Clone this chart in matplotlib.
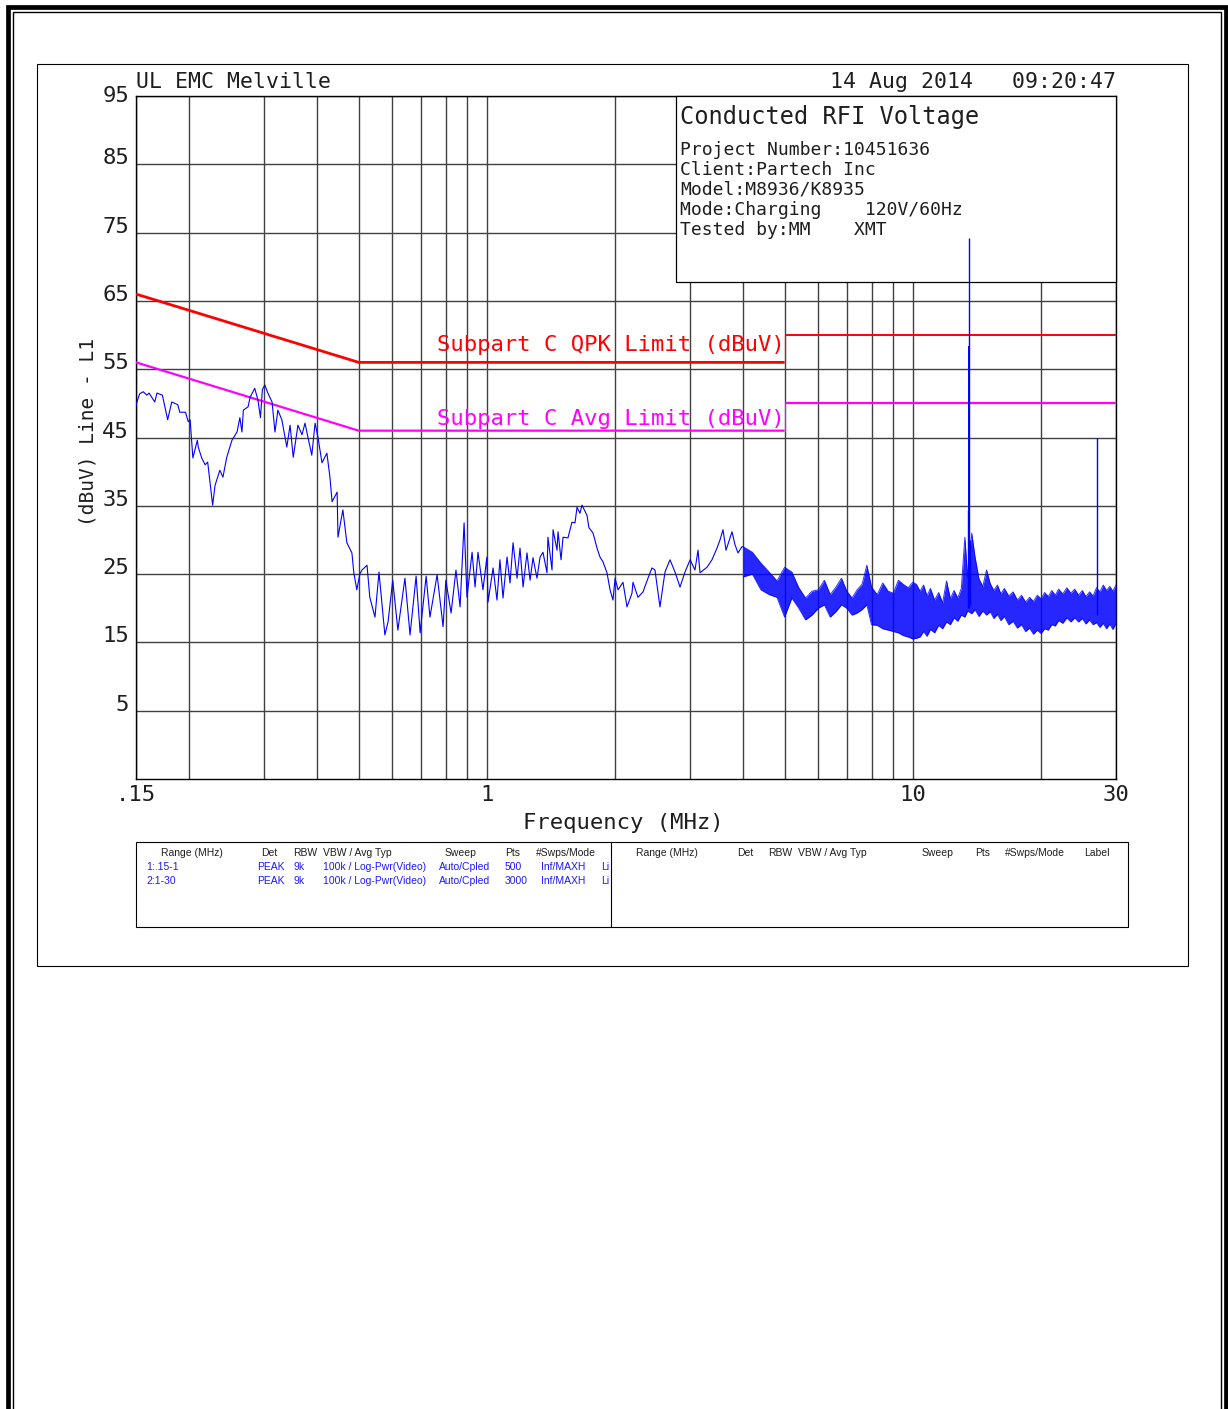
import matplotlib
matplotlib.use("Agg")
import matplotlib.pyplot as plt
import numpy as np
from matplotlib.lines import Line2D
from matplotlib.patches import Rectangle
from matplotlib.ticker import FixedLocator, FixedFormatter, NullFormatter, NullLocator

W, H = 1228, 1409            # page size in px (dpi 100)
MONO = "DejaVu Sans Mono"
SMALL = "Liberation Sans"
INK = "#1e1e1e"
GRID = "#404040"
TRACE = "#0000ff"
QPK_COLOR = "#ff0000"
AVG_COLOR = "#ff00ff"
TABLE_BLUE = "#1a1aff"

# ---------------------------------------------------------------------------
# Measured peak trace, 0.15 - 4 MHz
# ---------------------------------------------------------------------------
trace_mhz = [
    0.150, 0.153, 0.156, 0.159, 0.161, 0.166, 0.168, 0.173, 0.178, 0.182,
    0.188, 0.190, 0.196, 0.199, 0.201, 0.204, 0.209, 0.210, 0.214, 0.218,
    0.221, 0.227, 0.230, 0.236, 0.240, 0.245, 0.252, 0.259, 0.263, 0.266,
    0.268, 0.275, 0.278, 0.285, 0.290, 0.294, 0.297, 0.301, 0.306, 0.313,
    0.318, 0.323, 0.330, 0.339, 0.345, 0.351, 0.360, 0.368, 0.374, 0.388,
    0.395, 0.401, 0.410, 0.421, 0.428, 0.433, 0.445, 0.447, 0.459, 0.469,
    0.482, 0.487, 0.495, 0.503, 0.509, 0.523, 0.531, 0.546, 0.558, 0.576,
    0.586, 0.601, 0.618, 0.642, 0.660, 0.682, 0.697, 0.720, 0.735, 0.764,
    0.789, 0.801, 0.824, 0.846, 0.865, 0.884, 0.898, 0.923, 0.938, 0.953,
    0.979, 1.000, 1.006, 1.034, 1.056, 1.073, 1.091, 1.115, 1.133, 1.152,
    1.177, 1.196, 1.216, 1.242, 1.263, 1.283, 1.311, 1.333, 1.354, 1.384,
    1.391, 1.422, 1.430, 1.461, 1.469, 1.493, 1.509, 1.550, 1.584, 1.610,
    1.628, 1.654, 1.672, 1.718, 1.736, 1.775, 1.814, 1.843, 1.873, 1.914,
    1.946, 1.977, 2.000, 2.032, 2.087, 2.133, 2.191, 2.203, 2.263, 2.326,
    2.389, 2.441, 2.481, 2.549, 2.619, 2.691, 2.765, 2.841, 2.918, 3.000,
    3.080, 3.131, 3.165, 3.287, 3.377, 3.469, 3.526, 3.584, 3.643, 3.763,
    3.824, 3.887, 3.970,
]
trace_dbuv = [
    49.8, 51.4, 51.7, 51.2, 51.5, 50.2, 51.5, 51.2, 47.6, 50.2,
    49.8, 48.7, 48.7, 47.3, 47.6, 42.0, 44.6, 43.6, 42.0, 41.0,
    41.4, 35.1, 38.0, 40.2, 39.2, 42.1, 44.6, 45.8, 47.9, 45.8,
    49.0, 49.5, 50.9, 52.2, 50.5, 47.9, 52.0, 52.7, 51.5, 50.2,
    45.8, 49.0, 47.6, 43.6, 46.8, 42.1, 46.8, 45.4, 47.1, 42.4,
    47.1, 45.1, 41.3, 42.7, 39.2, 35.6, 37.0, 30.4, 34.4, 29.6,
    28.1, 25.2, 22.7, 25.0, 25.6, 26.3, 21.6, 18.7, 25.3, 16.1,
    18.0, 24.1, 16.8, 24.4, 16.1, 24.7, 16.4, 24.7, 18.7, 24.9,
    17.3, 24.1, 19.3, 25.6, 20.2, 32.5, 21.6, 28.2, 23.1, 28.2,
    22.7, 27.5, 20.9, 25.9, 21.2, 27.1, 21.5, 27.5, 23.7, 29.6,
    24.4, 28.8, 23.1, 28.1, 24.1, 27.4, 24.4, 27.5, 28.2, 25.2,
    30.4, 25.6, 31.5, 28.5, 31.2, 27.1, 30.4, 30.3, 32.6, 32.5,
    34.8, 33.9, 35.1, 33.6, 31.8, 31.0, 28.8, 27.5, 26.8, 25.2,
    22.7, 21.2, 24.4, 22.7, 23.8, 20.2, 22.2, 23.8, 21.6, 22.4,
    24.4, 25.9, 25.6, 20.2, 25.3, 27.1, 25.3, 23.1, 25.3, 27.1,
    25.6, 28.5, 25.2, 26.0, 27.1, 28.8, 30.0, 31.5, 28.5, 31.2,
    29.3, 28.1, 29.0,
]

# Noise floor 4 - 30 MHz: upper and lower edge of the dense sweep
band_mhz = [
    4.0, 4.2, 4.4, 4.6, 4.8, 5.0, 5.2, 5.4, 5.6, 5.8,
    6.0, 6.2, 6.4, 6.6, 6.8, 7.0, 7.2, 7.4, 7.6, 7.8,
    8.0, 8.25, 8.5, 8.75, 9.0, 9.25, 9.5, 9.75, 10.0, 10.2,
    10.4, 10.6, 10.8, 11.0, 11.25, 11.5, 11.75, 12.0, 12.25, 12.5,
    12.75, 13.0, 13.25, 13.45, 13.75, 14.0, 14.3, 14.6, 14.9, 15.2,
    15.5, 15.8, 16.1, 16.4, 16.8, 17.2, 17.6, 18.0, 18.4, 18.8,
    19.2, 19.6, 20.0, 20.4, 20.8, 21.2, 21.6, 22.0, 22.5, 23.0,
    23.5, 24.0, 24.5, 25.0, 25.5, 26.0, 26.5, 27.0, 27.5, 28.0,
    28.5, 29.0, 29.5, 30.0,
]
band_hi = [
    29.0, 28.2, 26.6, 25.3, 24.0, 26.0, 25.3, 23.0, 21.5, 22.5,
    22.7, 24.1, 22.0, 23.1, 24.4, 22.5, 21.5, 22.7, 23.5, 26.3,
    23.1, 22.0, 23.7, 22.5, 22.2, 24.1, 23.5, 23.0, 23.8, 23.5,
    22.5, 23.4, 21.8, 22.9, 21.2, 22.3, 20.8, 24.0, 21.4, 22.6,
    21.5, 22.9, 30.4, 24.5, 31.0, 27.5, 24.3, 23.2, 25.6, 23.6,
    22.6, 23.4, 22.1, 22.9, 21.8, 22.4, 21.2, 21.9, 20.9, 21.6,
    21.0, 21.9, 21.4, 22.3, 21.7, 22.6, 21.9, 22.8, 22.1, 23.0,
    22.2, 22.8, 21.9, 22.6, 21.7, 22.4, 21.8, 23.0, 22.4, 23.4,
    22.6, 23.2, 22.5, 23.4,
]
band_lo = [
    24.6, 25.0, 22.7, 22.0, 21.6, 18.7, 21.5, 20.0, 18.3, 19.0,
    20.0, 20.5, 18.7, 19.5, 20.5, 20.0, 19.0, 19.3, 19.8, 20.5,
    17.6, 17.5, 17.0, 16.8, 16.6, 16.4, 16.0, 15.8, 15.5, 15.6,
    15.8, 16.6, 15.9, 16.9, 16.4, 17.5, 17.0, 18.0, 17.6, 18.6,
    18.1, 19.0, 18.7, 19.6, 19.2, 19.8, 18.8, 19.6, 19.0, 19.5,
    18.5, 19.1, 18.2, 18.8, 17.6, 18.1, 17.1, 17.6, 16.6, 17.1,
    16.2, 16.8, 16.3, 17.0, 16.8, 17.6, 17.4, 18.2, 17.8, 18.6,
    18.0, 18.6, 18.0, 18.5, 17.7, 18.3, 17.6, 17.9, 17.2, 17.8,
    17.0, 17.7, 16.9, 17.8,
]

# Narrow carriers standing out of the floor (13.56 MHz and its harmonic)
spike_mhz = [13.50, 13.55, 13.56, 13.60, 27.12]
spike_base = [20.0, 20.0, 20.0, 20.5, 19.0]
spike_dbuv = [34.4, 58.4, 74.2, 30.0, 45.0]

# FCC Part 15 Subpart C conducted limits
limit_mhz = [0.15, 0.5, 5.0, 5.0, 30.0]
qpk_dbuv = [66, 56, 56, 60, 60]
avg_dbuv = [56, 46, 46, 50, 50]

y_ticks = [5, 15, 25, 35, 45, 55, 65, 75, 85, 95]
x_ticks = [0.15, 1, 10, 30]
x_tick_labels = [".15", "1", "10", "30"]
x_grid = [0.2, 0.3, 0.4, 0.5, 0.6, 0.7, 0.8, 0.9,
          2, 3, 4, 5, 6, 7, 8, 9, 20]

info_lines = [
    "Project Number:10451636",
    "Client:Partech Inc",
    "Model:M8936/K8935",
    "Mode:Charging    120V/60Hz",
    "Tested by:MM    XMT",
]

table_header = ["Range (MHz)", "Det", "RBW", "VBW / Avg Typ",
                "Sweep", "Pts", "#Swps/Mode"]
table_rows = [
    ["1:.15-1", "PEAK", "9k", "100k / Log-Pwr(Video)", "Auto/Cpled", "500", "Inf/MAXH", "Li"],
    ["2:1-30", "PEAK", "9k", "100k / Log-Pwr(Video)", "Auto/Cpled", "3000", "Inf/MAXH", "Li"],
]


def fx(x):
    return x / W


def fy(y):
    return 1 - y / H


fig = plt.figure(figsize=(W / 100, H / 100), dpi=100)
fig.patch.set_facecolor("white")


def rule(xs, ys, lw):
    fig.add_artist(Line2D([fx(x) for x in xs], [fy(y) for y in ys],
                          color="black", lw=lw, solid_joinstyle="miter",
                          solid_capstyle="butt"))


def box(x0, y0, x1, y1, lw=0.8):
    fig.add_artist(Rectangle((fx(x0), fy(y1)), (x1 - x0) / W, (y1 - y0) / H,
                             fill=False, ec="black", lw=lw,
                             transform=fig.transFigure))


# page frame: heavy rule plus a hairline inside, open at the bottom
rule([7.8, 7.8, 1225.5, 1225.5], [H + 10, 6.8, 6.8, H + 10], 3.4)
rule([12.6, 12.6, 1220.8, 1220.8], [H + 10, 11.8, 11.8, H + 10], 1.0)
box(37, 64, 1188, 966)

# ---------------------------------------------------------------------------
# Plot area
# ---------------------------------------------------------------------------
ax = fig.add_axes([fx(136), fy(779), (1116 - 136) / W, (779 - 96) / H])
ax.set_xscale("log")
ax.set_xlim(0.15, 30)
ax.set_ylim(-5, 95)
ax.set_axisbelow(True)

ax.xaxis.set_major_locator(FixedLocator(x_ticks))
ax.xaxis.set_major_formatter(FixedFormatter(x_tick_labels))
ax.xaxis.set_minor_locator(FixedLocator(x_grid))
ax.xaxis.set_minor_formatter(NullFormatter())
ax.yaxis.set_major_locator(FixedLocator(y_ticks))
ax.yaxis.set_minor_locator(NullLocator())
ax.grid(True, which="both", axis="x", color=GRID, lw=1.0)
ax.grid(True, which="major", axis="y", color=GRID, lw=1.0)
ax.tick_params(which="both", length=0, labelsize=16, labelcolor=INK)
ax.tick_params(axis="x", pad=4)
ax.tick_params(axis="y", pad=5)
for lab in ax.get_xticklabels() + ax.get_yticklabels():
    lab.set_family(MONO)
ylabs = ax.get_yticklabels()
for lab in ylabs:
    lab.set_va("baseline")
ylabs[-1].set_va("center")
for sp in ax.spines.values():
    sp.set_color("black")
    sp.set_linewidth(1.0)

ax.set_xlabel("Frequency (MHz)", family=MONO, fontsize=16, color=INK, va="center")
ax.xaxis.set_label_coords((623.5 - 136) / 980, -(823 - 779) / 683)
ax.set_ylabel("(dBuV) Line - L1", family=MONO, fontsize=14, color=INK,
              ha="center", va="center")
ax.yaxis.set_label_coords(-(136 - 88) / 980, (779 - 432) / 683)

# info block in the upper right, above the grid but under the trace
ax.add_patch(Rectangle(((676 - 136) / 980, (779 - 282) / 683),
                       (1116 - 676) / 980, (282 - 96) / 683,
                       transform=ax.transAxes, fc="white", ec="black",
                       lw=0.9, zorder=3, clip_on=False))

# limit lines
ax.plot(limit_mhz[:3], qpk_dbuv[:3], color=QPK_COLOR, lw=2.0, zorder=4,
        solid_capstyle="butt")
ax.plot(limit_mhz[2:4], qpk_dbuv[2:4], color=QPK_COLOR, lw=0.8, zorder=4)
ax.plot(limit_mhz[3:], qpk_dbuv[3:], color=QPK_COLOR, lw=1.4, zorder=4,
        solid_capstyle="butt")
ax.plot(limit_mhz[:3], avg_dbuv[:3], color=AVG_COLOR, lw=1.6, zorder=4,
        solid_capstyle="butt")
ax.plot(limit_mhz[2:4], avg_dbuv[2:4], color=AVG_COLOR, lw=0.8, zorder=4)
ax.plot(limit_mhz[3:], avg_dbuv[3:], color=AVG_COLOR, lw=1.6, zorder=4,
        solid_capstyle="butt")
ax.text(limit_mhz[2], qpk_dbuv[2] + 1.7, "Subpart C QPK Limit (dBuV)",
        color=QPK_COLOR, family=MONO, fontsize=16, ha="right",
        va="baseline", zorder=4)
ax.text(limit_mhz[2], avg_dbuv[2] + 0.9, "Subpart C Avg Limit (dBuV)",
        color=AVG_COLOR, family=MONO, fontsize=16, ha="right",
        va="baseline", zorder=4)

# trace: resolved line below 4 MHz, then the dense floor as a filled band
ax.plot(trace_mhz + band_mhz[:1], trace_dbuv + band_hi[:1], color=TRACE,
        lw=0.8, zorder=5)
ax.fill_between(band_mhz, band_lo, band_hi, color=TRACE, lw=0, alpha=0.85,
                zorder=5)
ax.plot(band_mhz, band_hi, color=TRACE, lw=0.7, alpha=0.8, zorder=5)
ax.plot(band_mhz, band_lo, color=TRACE, lw=0.7, alpha=0.8, zorder=5)
ax.vlines(spike_mhz, spike_base, spike_dbuv, color=TRACE,
          lw=[1.0, 1.4, 1.0, 1.0, 1.0], zorder=5)

# ---------------------------------------------------------------------------
# Header / info text
# ---------------------------------------------------------------------------
fig.text(fx(136), fy(88), "UL EMC Melville", family=MONO, fontsize=15.5,
         color=INK, va="baseline")
fig.text(fx(1116), fy(88), "14 Aug 2014   09:20:47", family=MONO,
         fontsize=15.5, color=INK, va="baseline", ha="right")
fig.text(fx(680), fy(124), "Conducted RFI Voltage", family=MONO,
         fontsize=17, color=INK, va="baseline")
for i, line in enumerate(info_lines):
    fig.text(fx(680), fy(155 + 20 * i), line, family=MONO, fontsize=13,
             color=INK, va="baseline")

# ---------------------------------------------------------------------------
# Sweep settings table
# ---------------------------------------------------------------------------
box(136, 842, 1128, 927)
rule([611, 611], [842, 927], 0.8)
hdr_x = [161, 261, 293, 323, 445, 505, 536]
row_x = [146, 257, 293, 323, 439, 505, 541, 601]
for x, s in zip(hdr_x, table_header):
    fig.text(fx(x), fy(856), s, family=SMALL, fontsize=7.5, color=INK,
             va="baseline")
for x, s in zip([636, 737, 768, 798, 922, 975, 1005, 1084],
                table_header + ["Label"]):
    fig.text(fx(x), fy(856), s, family=SMALL, fontsize=7.5, color=INK,
             va="baseline")
for r, row in enumerate(table_rows):
    for x, s in zip(row_x, row):
        fig.text(fx(x), fy(870 + 14 * r), s, family=SMALL, fontsize=7.5,
                 color=TABLE_BLUE, va="baseline")

fig.savefig("out.png", dpi=100, facecolor="white")
